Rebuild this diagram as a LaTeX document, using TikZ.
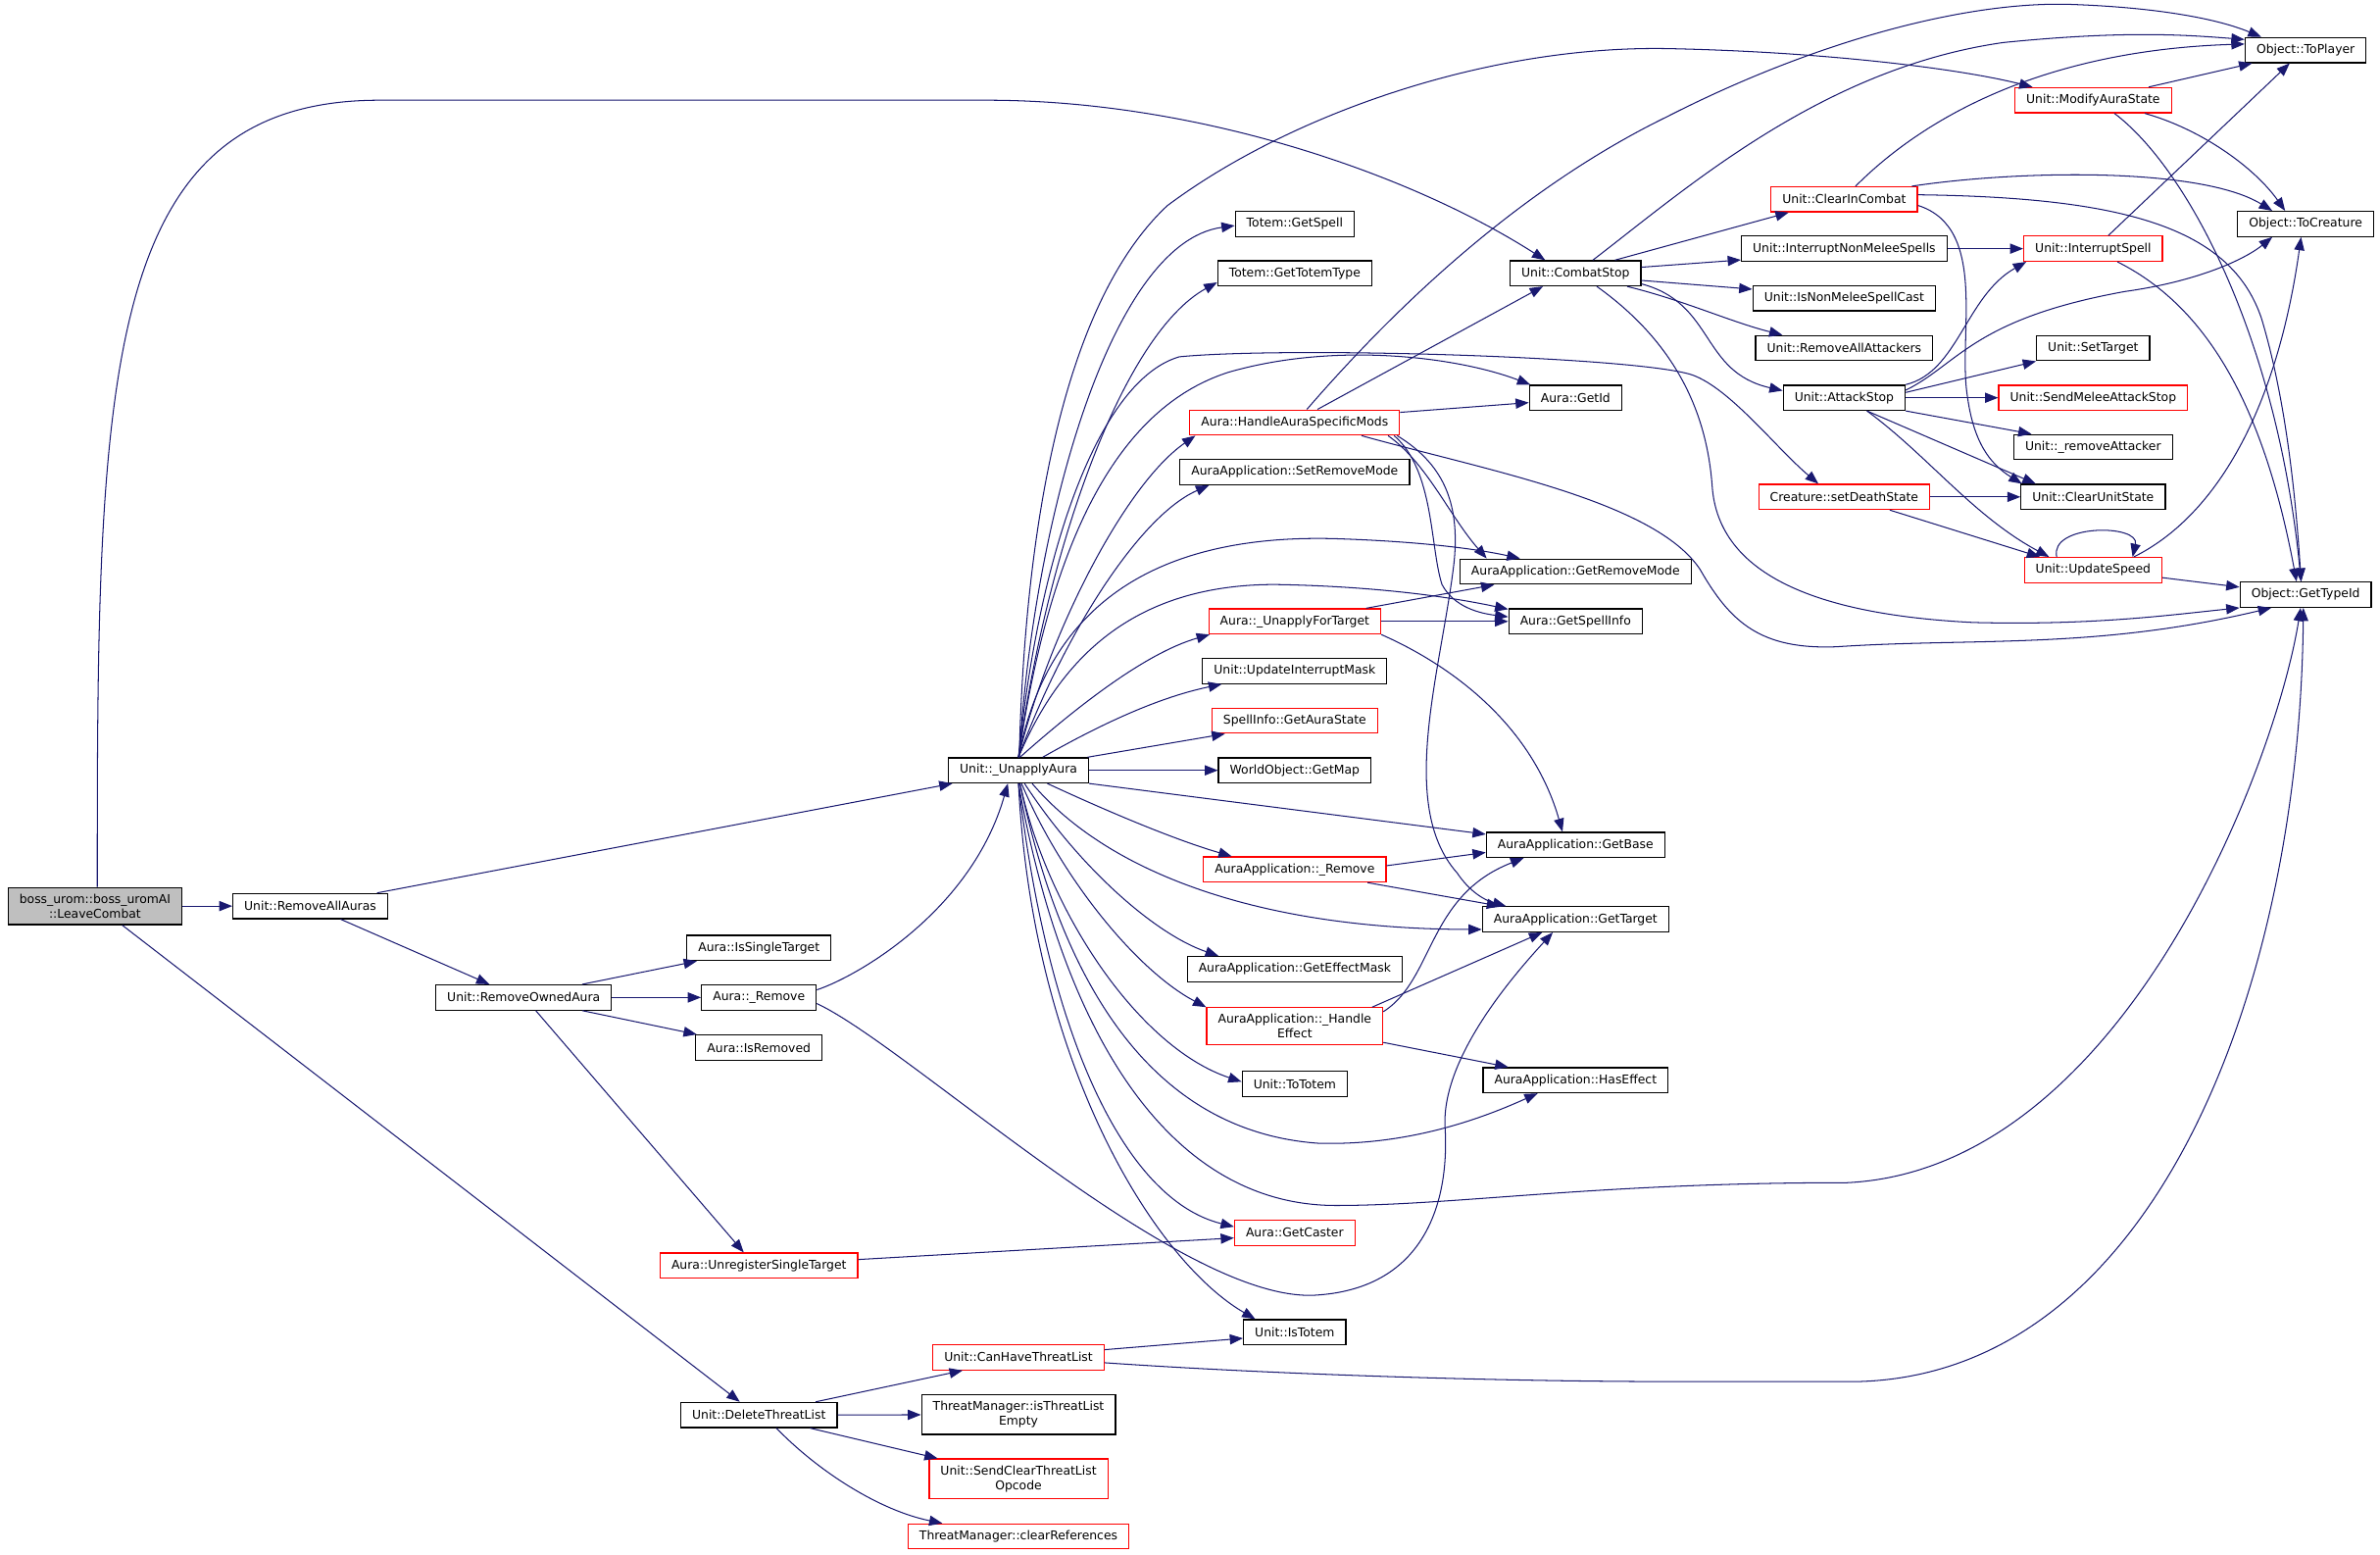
\documentclass[tikz,border=0pt]{standalone}
\usepackage{fontspec}
\setmainfont{DejaVu Sans}
\usetikzlibrary{arrows.meta,calc}
\definecolor{edgecol}{HTML}{191970}
\definecolor{graybg}{HTML}{BFBFBF}
\definecolor{redb}{HTML}{FF0000}
\begin{document}
\begin{tikzpicture}[x=0.75pt,y=-0.75pt,
  box/.style={draw=black, line width=0.6pt, fill=white, font=\fontsize{6}{7.3}\selectfont,
    inner xsep=5.6pt, inner ysep=3.2pt, minimum height=12.4pt, align=center},
  rbox/.style={box, draw=redb},
  gbox/.style={box, fill=graybg},
  conn/.style={draw=edgecol, line width=0.5pt, line join=round,
    -{Triangle[length=6.5pt,width=5pt]}}]
\useasboundingbox (0,0) rectangle (1568,1024.2);

% rank 0-4
\node[gbox] (boss) at (62.6,596.8) {boss\_urom::boss\_uromAI\\::LeaveCombat};
\node[box] (raa) at (204.4,596.8) {Unit::RemoveAllAuras};
\node[box] (roa) at (345,657) {Unit::RemoveOwnedAura};
\node[box] (ist) at (500,624.4) {Aura::IsSingleTarget};
\node[box] (arem) at (500,657) {Aura::\_Remove};
\node[box] (isr) at (500,690) {Aura::IsRemoved};
\node[rbox] (ust) at (500,833.6) {Aura::UnregisterSingleTarget};
\node[box] (dtl) at (500,932) {Unit::DeleteThreatList};
\node[box] (ua) at (671,507.4) {Unit::\_UnapplyAura};
\node[rbox] (chtl) at (671,894) {Unit::CanHaveThreatList};
\node[box] (tile) at (671,931.8) {ThreatManager::isThreatList\\Empty};
\node[rbox] (sct) at (671,974) {Unit::SendClearThreatList\\Opcode};
\node[rbox] (cref) at (671,1012) {ThreatManager::clearReferences};
% rank 5
\node[box] (tgs) at (853,147.6) {Totem::GetSpell};
\node[box] (tgt) at (853,180) {Totem::GetTotemType};
\node[rbox] (hasm) at (853,278.3) {Aura::HandleAuraSpecificMods};
\node[box] (srm) at (853,311) {AuraApplication::SetRemoveMode};
\node[rbox] (uft) at (853,409.3) {Aura::\_UnapplyForTarget};
\node[box] (uim) at (853,442) {Unit::UpdateInterruptMask};
\node[rbox] (gas) at (853,474.7) {SpellInfo::GetAuraState};
\node[box] (gmap) at (853,507.4) {WorldObject::GetMap};
\node[rbox] (aarem) at (853,572.7) {AuraApplication::\_Remove};
\node[box] (gem) at (853,638.3) {AuraApplication::GetEffectMask};
\node[rbox] (he) at (853,676) {AuraApplication::\_Handle\\Effect};
\node[box] (tot) at (853,714) {Unit::ToTotem};
\node[rbox] (gc) at (853,812) {Aura::GetCaster};
\node[box] (istot) at (853,877.5) {Unit::IsTotem};
% rank 6
\node[box] (cs) at (1038,180) {Unit::CombatStop};
\node[box] (gid) at (1038,262) {Aura::GetId};
\node[box] (grm) at (1038,376.5) {AuraApplication::GetRemoveMode};
\node[box] (gsi) at (1038,409.3) {Aura::GetSpellInfo};
\node[box] (gb) at (1038,556.5) {AuraApplication::GetBase};
\node[box] (gt) at (1038,605.5) {AuraApplication::GetTarget};
\node[box] (hef) at (1038,711.5) {AuraApplication::HasEffect};
% rank 7
\node[rbox] (cic) at (1215,131.3) {Unit::ClearInCombat};
\node[box] (inms) at (1215,163.8) {Unit::InterruptNonMeleeSpells};
\node[box] (inmsc) at (1215,196.5) {Unit::IsNonMeleeSpellCast};
\node[box] (raat) at (1215,229.3) {Unit::RemoveAllAttackers};
\node[box] (as) at (1215,262) {Unit::AttackStop};
\node[rbox] (sds) at (1215,327.3) {Creature::setDeathState};
% rank 8
\node[rbox] (mas) at (1379,66) {Unit::ModifyAuraState};
\node[rbox] (isp) at (1379,163.8) {Unit::InterruptSpell};
\node[box] (stg) at (1379,229.3) {Unit::SetTarget};
\node[rbox] (smas) at (1379,262) {Unit::SendMeleeAttackStop};
\node[box] (rat) at (1379,294.5) {Unit::\_removeAttacker};
\node[box] (cus) at (1379,327.3) {Unit::ClearUnitState};
\node[rbox] (us) at (1379,375.5) {Unit::UpdateSpeed};
% rank 9
\node[box] (tp) at (1519,33) {Object::ToPlayer};
\node[box] (tc) at (1519,147.5) {Object::ToCreature};
\node[box] (gti) at (1519,391.7) {Object::GetTypeId};

% ---- edges ----
\draw[conn] (boss) -- (raa);
\draw[conn] ($(boss.north)+(1.5,0)$) .. controls (64,250) and (66,66) .. (250,66) -- (650,66) .. controls (790,66) and (930,115) .. ($(cs.north)+(-20,0)$);
\draw[conn] ($(boss.south)+(18,0)$) -- ($(dtl.north)+(-12.6,0)$);
\draw[conn] ($(raa.north)+(44,0)$) -- ($(ua.south west)+(3,0)$);
\draw[conn] ($(raa.south)+(20,0)$) -- ($(roa.north)+(-22.5,0)$);
\draw[conn] ($(roa.north)+(38.6,0)$) -- ($(ist.south west)+(7,0)$);
\draw[conn] (roa) -- (arem);
\draw[conn] ($(roa.south)+(38.6,0)$) -- ($(isr.north west)+(1,0)$);
\draw[conn] ($(roa.south)+(8,0)$) -- ($(ust.north)+(-10,0)$);
\draw[conn] ($(arem.east)+(0,-5)$) .. controls (565,643) and (640,600) .. ($(ua.south)+(-7,0)$);
\draw[conn] ($(arem.east)+(0,4)$) .. controls (600,690) and (780,860) .. (868,853) .. controls (940,848) and (955,790) .. (952,742) .. controls (950,700) and (990,650) .. ($(gt.south)+(-15,0)$);
\draw[conn] ($(ust.east)+(0,-4)$) -- ($(gc.west)+(0,3.4)$);
\draw[conn] ($(dtl.north)+(37.4,0)$) -- ($(chtl.south west)+(20,0)$);
\draw[conn] (dtl) -- (tile);
\draw[conn] ($(dtl.south)+(33.7,0)$) -- ($(sct.north west)+(6,0)$);
\draw[conn] ($(dtl.south)+(11.5,0)$) .. controls (540,970) and (580,995) .. ($(cref.north west)+(23,0)$);
\draw[conn] ($(chtl.east)+(0,-5)$) -- ($(istot.west)+(0,4)$);
\draw[conn] ($(chtl.east)+(0,3.6)$) .. controls (850,906) and (1000,910) .. (1100,910) -- (1224,910) .. controls (1420,905) and (1515,650) .. ($(gti.south)+(-1.5,0)$);
% from _UnapplyAura, upward
\draw[conn] ($(ua.north)+(0.5,0)$) .. controls (675,350) and (700,200) .. (769,135.5) .. controls (850,75) and (980,30) .. (1098,32) .. controls (1200,34) and (1290,45) .. ($(mas.north west)+(12,0)$);
\draw[conn] ($(ua.north)+(0.5,0)$) .. controls (680,350) and (730,160) .. ($(tgs.west)+(0,1)$);
\draw[conn] (ua.north) .. controls (690,360) and (740,220) .. ($(tgt.west)+(0,6)$);
\draw[conn] (ua.north) .. controls (685,360) and (725,250) .. (777,235) .. controls (850,228) and (1080,235) .. (1115,247) .. controls (1140,256) and (1170,295) .. ($(sds.north)+(-17,0)$);
\draw[conn] (ua.north) .. controls (690,370) and (730,270) .. (810,245) .. controls (880,225) and (960,235) .. ($(gid.north west)+(1,0)$);
\draw[conn] (ua.north) .. controls (690,420) and (740,320) .. ($(hasm.south west)+(4,0)$);
\draw[conn] (ua.north) .. controls (700,420) and (750,340) .. ($(srm.south)+(-56.5,0)$);
\draw[conn] (ua.north) .. controls (690,400) and (760,350) .. (885,355) .. controls (940,357) and (975,362) .. ($(grm.north west)+(40,0)$);
\draw[conn] (ua.north) .. controls (700,430) and (750,385) .. (840,385) .. controls (900,386) and (950,392) .. ($(gsi.west)+(0,-8)$);
\draw[conn] ($(ua.north)+(1,0)$) .. controls (710,465) and (755,430) .. ($(uft.south west)+(1,0)$);
\draw[conn] ($(ua.north)+(16,0)$) .. controls (720,480) and (760,460) .. ($(uim.south west)+(13,0)$);
\draw[conn] ($(ua.north east)+(-1,0)$) -- ($(gas.south west)+(9,0)$);
\draw[conn] (ua) -- (gmap);
% from _UnapplyAura, downward
\draw[conn] (ua.south east) -- ($(gb.west)+(0,-7)$);
\draw[conn] ($(ua.south)+(19,0)$) .. controls (720,530) and (770,552) .. ($(aarem.north)+(-41.5,0)$);
\draw[conn] ($(ua.south)+(9,0)$) .. controls (730,575) and (830,612) .. ($(gt.west)+(0,6.7)$);
\draw[conn] ($(ua.south)+(4,0)$) .. controls (710,570) and (760,615) .. ($(gem.north west)+(21,0)$);
\draw[conn] ($(ua.south)+(2,0)$) .. controls (700,580) and (750,640) .. (he.north west);
\draw[conn] ($(ua.south)+(1,0)$) .. controls (690,600) and (750,690) .. ($(tot.west)+(0,-1.5)$);
\draw[conn] ($(ua.south)+(1,0)$) .. controls (700,650) and (760,745) .. (868,753) .. controls (930,755) and (980,735) .. ($(hef.south)+(-25,0)$);
\draw[conn] (ua.south) .. controls (700,680) and (770,794) .. (880,794) .. controls (960,794) and (1050,779) .. (1217,779) .. controls (1400,770) and (1500,500) .. ($(gti.south)+(-3.3,0)$);
\draw[conn] (ua.south) .. controls (690,680) and (740,790) .. ($(gc.west)+(0,-4)$);
\draw[conn] (ua.south) .. controls (680,700) and (760,830) .. ($(istot.north)+(-26,0)$);
% HandleAuraSpecificMods
\draw[conn] ($(hasm.north)+(8,0)$) .. controls (930,190) and (1010,120) .. (1098,77) .. controls (1200,25) and (1300,0) .. (1367,3) .. controls (1420,5) and (1460,12) .. ($(tp.north west)+(11,0)$);
\draw[conn] ($(hasm.north)+(15,0)$) -- ($(cs.south)+(-21.5,0)$);
\draw[conn] ($(hasm.east)+(0,-6.7)$) -- ($(gid.west)+(0,3.2)$);
\draw[conn] ($(hasm.south east)+(-8,0)$) .. controls (940,305) and (955,340) .. ($(grm.north west)+(18,0)$);
\draw[conn] ($(hasm.south east)+(-4,0)$) .. controls (945,310) and (942,360) .. (950,385) .. controls (958,400) and (975,404) .. ($(gsi.west)+(0,-3)$);
\draw[conn] ($(hasm.south east)+(-2,0)$) .. controls (950,305) and (962,330) .. (958,370) .. controls (950,440) and (920,530) .. (960,575) .. controls (968,587) and (978,593) .. ($(gt.north west)+(16,0)$);
\draw[conn] ($(hasm.south)+(44,0)$) .. controls (980,310) and (1090,330) .. (1120,375) .. controls (1140,410) and (1160,428) .. (1210,426) .. controls (1300,420) and (1380,428) .. ($(gti.south west)+(21,0)$);
% _UnapplyForTarget
\draw[conn] ($(uft.north)+(47,0)$) -- ($(grm.south west)+(23,0)$);
\draw[conn] (uft) -- (gsi);
\draw[conn] (uft.south east) .. controls (960,440) and (1010,480) .. ($(gb.north)+(-8.6,0)$);
% AuraApplication::_Remove and _HandleEffect
\draw[conn] ($(aarem.east)+(0,-2.5)$) -- ($(gb.west)+(0,5)$);
\draw[conn] ($(aarem.south)+(48,0)$) -- ($(gt.north west)+(12,0)$);
\draw[conn] ($(he.north east)+(0,3)$) .. controls (945,645) and (940,590) .. ($(gb.south west)+(25,0)$);
\draw[conn] ($(he.north)+(51,0)$) -- ($(gt.south)+(-22,0)$);
\draw[conn] ($(he.south east)+(0,-2)$) -- ($(hef.north west)+(17,0)$);
% CombatStop
\draw[conn] ($(cs.north)+(26,0)$) -- ($(cic.south west)+(12,0)$);
\draw[conn] ($(cs.east)+(0,-4)$) -- ($(inms.west)+(0,7.4)$);
\draw[conn] ($(cs.east)+(0,4.7)$) -- ($(inmsc.west)+(0,-6)$);
\draw[conn] ($(cs.south)+(34,0)$) .. controls (1110,198) and (1140,212) .. ($(raat.north west)+(18,0)$);
\draw[conn] ($(cs.east)+(0,7)$) .. controls (1130,200) and (1120,245) .. ($(as.west)+(0,-4.7)$);
\draw[conn] ($(cs.south)+(14,0)$) .. controls (1110,230) and (1125,280) .. (1128,320) .. controls (1132,380) and (1200,405) .. (1300,410) .. controls (1380,412) and (1430,405) .. (gti.south west);
\draw[conn] ($(cs.north)+(11.4,0)$) .. controls (1110,125) and (1200,45) .. (1320,28) .. controls (1400,20) and (1440,23) .. ($(tp.west)+(0,-7)$);
% ClearInCombat
\draw[conn] ($(cic.north)+(7.5,0)$) .. controls (1270,75) and (1350,33) .. ($(tp.west)+(0,-4)$);
\draw[conn] ($(cic.north east)+(-4,0)$) .. controls (1330,112) and (1450,110) .. ($(tc.north)+(-22,0)$);
\draw[conn] ($(cic.east)+(0,-3)$) .. controls (1400,130) and (1470,150) .. (1490,210) .. controls (1505,260) and (1512,320) .. ($(gti.north)+(-3,0)$);
\draw[conn] ($(cic.east)+(0,4)$) .. controls (1310,150) and (1290,220) .. (1296,260) .. controls (1300,290) and (1310,305) .. ($(cus.north west)+(1,0)$);
% others
\draw[conn] (inms) -- (isp);
\draw[conn] ($(isp.north)+(10,0)$) -- ($(tp.south)+(-10.5,0)$);
\draw[conn] ($(isp.south)+(16,0)$) .. controls (1450,200) and (1490,260) .. ($(gti.north)+(-6,0)$);
\draw[conn] ($(mas.north)+(36.6,0)$) -- ($(tp.south west)+(5,0)$);
\draw[conn] ($(mas.south)+(34,0)$) .. controls (1450,85) and (1485,110) .. ($(tc.north)+(-13.5,0)$);
\draw[conn] ($(mas.south)+(14,0)$) .. controls (1440,110) and (1500,220) .. ($(gti.north)+(-3,0)$);
% AttackStop
\draw[conn] (as.north east) .. controls (1290,245) and (1295,195) .. ($(isp.south west)+(2,0)$);
\draw[conn] ($(as.east)+(0,-5)$) .. controls (1290,240) and (1300,210) .. (1400,192) .. controls (1450,185) and (1480,170) .. ($(tc.south)+(-22,0)$);
\draw[conn] ($(as.east)+(0,-3.5)$) -- (stg.south west);
\draw[conn] (as) -- (smas);
\draw[conn] (as.south east) -- ($(rat.north west)+(12,0)$);
\draw[conn] ($(as.south)+(15,0)$) -- ($(cus.north west)+(10,0)$);
\draw[conn] ($(as.south)+(15,0)$) .. controls (1270,300) and (1300,340) .. ($(us.north)+(-29,0)$);
% setDeathState, UpdateSpeed
\draw[conn] (sds) -- (cus);
\draw[conn] ($(sds.south)+(30,0)$) -- ($(us.north)+(-35,0)$);
\draw[conn] ($(us.north)+(-24,0)$) .. controls (1350,345) and (1410,345) .. ($(us.north)+(26,0)$);
\draw[conn] ($(us.north east)+(-19,0)$) .. controls (1460,340) and (1500,270) .. ($(tc.south)+(-3,0)$);
\draw[conn] ($(us.east)+(0,5)$) -- ($(gti.west)+(0,-5)$);
\end{tikzpicture}
\end{document}
